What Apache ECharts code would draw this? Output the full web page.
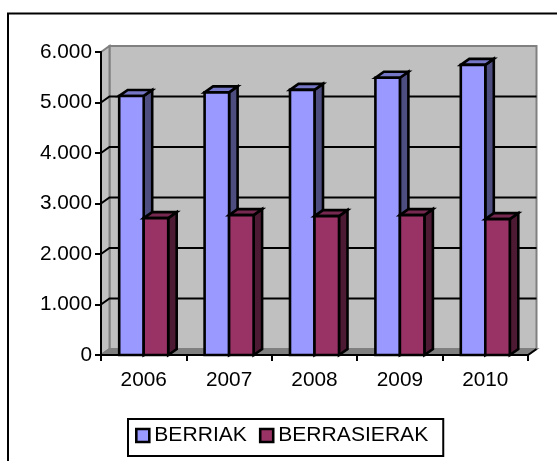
<!DOCTYPE html>
<html>
<head>
<meta charset="utf-8">
<style>
  html, body { margin: 0; padding: 0; background: #fff; }
  #chart { width: 557px; height: 461px; }
</style>
<script src="https://cdn.jsdelivr.net/npm/echarts@6/dist/echarts.min.js"></script>
</head>
<body>
<div id="chart"></div>
<script>
const years = ["2006", "2007", "2008", "2009", "2010"];
const berriak = [5130, 5200, 5250, 5490, 5745];
const berrasierak = [2710, 2770, 2750, 2770, 2690];
const yTicks = [0, 1000, 2000, 3000, 4000, 5000, 6000];

// 3D depth of the box and the bars, in px
const DX = 8.5;
const DY = 6;
const BAR_W = 24.5;

const line = { stroke: "#000", lineWidth: 2.6 };

// back wall, left wall and floor of the box
function renderBox(params) {
  const { x: x0, y: y1, width, height } = params.coordSys;
  const x1 = x0 + width;
  const y0 = y1 + height;
  const edge = { stroke: "#808080", lineWidth: 2 };
  const poly = (points, fill) => ({
    type: "polygon",
    shape: { points },
    style: { fill, ...edge },
  });
  return {
    type: "group",
    children: [
      poly([[x0 + DX, y1 - DY], [x1 + DX, y1 - DY], [x1 + DX, y0 - DY], [x0 + DX, y0 - DY]], "#c0c0c0"),
      poly([[x0, y1], [x0 + DX, y1 - DY], [x0 + DX, y0 - DY], [x0, y0]], "#c0c0c0"),
      poly([[x0, y0], [x0 + DX, y0 - DY], [x1 + DX, y0 - DY], [x1, y0]], "#808080"),
      {
        type: "line",
        shape: { x1: x1, y1: y0, x2: x1 + DX, y2: y0 - DY },
        style: { stroke: "#000", lineWidth: 2 },
      },
    ],
  };
}

// gridlines sit on the walls, so they are shifted back by the depth
function renderGrid(params, api) {
  const { x: x0, width } = params.coordSys;
  const x1 = x0 + width;
  const [, y] = api.coord([0, api.value(0)]);
  return {
    type: "polyline",
    shape: { points: [[x0, y], [x0 + DX, y - DY], [x1 + DX, y - DY]] },
    style: { fill: null, stroke: "#000", lineWidth: 2 },
  };
}

function makeBar(front, top, side, offset) {
  return (params, api) => {
    const [cx, y0] = api.coord([api.value(0), 0]);
    const [, y1] = api.coord([api.value(0), api.value(1)]);
    const x0 = cx + offset;
    const x1 = x0 + BAR_W;
    const poly = (points, fill) => ({
      type: "polygon",
      shape: { points },
      style: { fill, ...line },
    });
    return {
      type: "group",
      children: [
        poly([[x1, y1], [x1 + DX, y1 - DY], [x1 + DX, y0 - DY], [x1, y0]], side),
        poly([[x0, y1], [x0 + DX, y1 - DY], [x1 + DX, y1 - DY], [x1, y1]], top),
        poly([[x0, y1], [x1, y1], [x1, y0], [x0, y0]], front),
      ],
    };
  };
}

const chart = echarts.init(document.getElementById("chart"), null, { renderer: "canvas" });

chart.setOption({
  animation: false,
  backgroundColor: "#fff",
  textStyle: { fontFamily: "Liberation Sans" },
  grid: { left: 101, top: 52, width: 427, height: 303 },
  graphic: [
    // chart frame, open to the right and bottom where the crop cuts it
    {
      type: "polyline",
      shape: { points: [[8, 461], [8, 13.5], [557, 13.5]] },
      style: { fill: null, stroke: "#000", lineWidth: 2 },
    },
  ],
  xAxis: {
    type: "category",
    data: years,
    boundaryGap: true,
    axisLine: { lineStyle: { color: "#000", width: 2 } },
    axisTick: { show: true, alignWithLabel: false, length: 6, lineStyle: { color: "#000", width: 2 } },
    axisLabel: { color: "#000", fontSize: 20.8, margin: 15 },
    splitLine: { show: false },
    z: 5,
  },
  yAxis: {
    type: "value",
    min: 0,
    max: 6000,
    interval: 1000,
    axisLine: { show: true, lineStyle: { color: "#000", width: 2 } },
    axisTick: { show: true, length: 6, lineStyle: { color: "#000", width: 2 } },
    axisLabel: {
      color: "#000",
      fontSize: 20.8,
      margin: 9,
      formatter: (v) => (v === 0 ? "0" : v / 1000 + ".000"),
    },
    splitLine: { show: false },
    z: 5,
  },
  legend: {
    left: 128,
    top: 419,
    padding: [6, 15, 10, 7],
    orient: "horizontal",
    backgroundColor: "#fff",
    borderColor: "#000",
    borderWidth: 2,
    itemGap: 12,
    itemWidth: 13,
    itemHeight: 13,
    icon: "rect",
    selectedMode: false,
    textStyle: { color: "#000", fontSize: 21.1 },
    data: [
      { name: "BERRIAK", itemStyle: { color: "#9999ff", borderColor: "#000", borderWidth: 2.6 } },
      { name: "BERRASIERAK", itemStyle: { color: "#993366", borderColor: "#000", borderWidth: 2.6 } },
    ],
  },
  series: [
    { type: "custom", name: "box", silent: true, z: 1, renderItem: renderBox, data: [[0]], encode: { x: -1, y: -1 } },
    { type: "custom", name: "grid", silent: true, z: 2, renderItem: renderGrid, data: yTicks.slice(1, -1).map((v) => [v]), encode: { x: -1, y: 0 } },
    {
      type: "custom",
      name: "BERRIAK",
      z: 3,
      itemStyle: { color: "#9999ff" },
      renderItem: makeBar("#9999ff", "#7676c6", "#4d4d80", -BAR_W),
      data: berriak.map((v, i) => [i, v]),
      encode: { x: 0, y: 1 },
    },
    {
      type: "custom",
      name: "BERRASIERAK",
      z: 4,
      itemStyle: { color: "#993366" },
      renderItem: makeBar("#993366", "#772850", "#4d1a33", 0),
      data: berrasierak.map((v, i) => [i, v]),
      encode: { x: 0, y: 1 },
    },
  ],
});
</script>
</body>
</html>
